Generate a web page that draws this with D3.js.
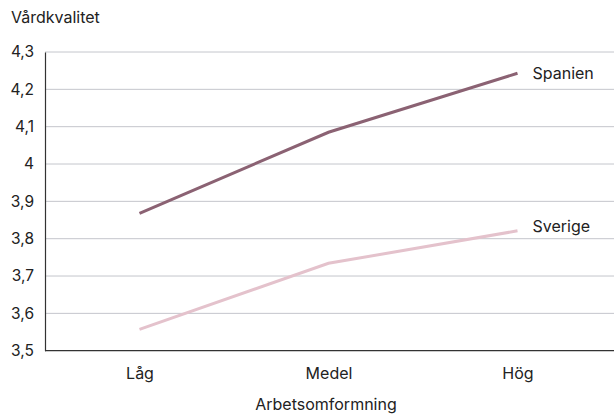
<!DOCTYPE html>
<html><head><meta charset="utf-8">
<script src="https://cdn.jsdelivr.net/npm/d3@7"></script>
<style>body{margin:0;background:#fff}svg{display:block}text{font-family:Inter,"Liberation Sans",Arial,sans-serif;fill:#222}</style>
</head><body><svg id="c" width="614" height="416"></svg>
<script>
const categories = ["Låg", "Medel", "Hög"];
const spanien = [3.868, 4.085, 4.243];
const sverige = [3.557, 3.734, 3.821];
const yTicks = [3.5, 3.6, 3.7, 3.8, 3.9, 4.0, 4.1, 4.2, 4.3];
const seriesNames = ["Spanien", "Sverige"];
const colors = ["#8b6273", "#e4c2cc"];

const FS = "16px";
const svg = d3.select("#c");
const L = 45, R = 614, T = 52, B = 350.7;
const x = d3.scalePoint().domain(categories).range([L, 612]).padding(0.5);
const y = d3.scaleLinear().domain([3.5, 4.3]).range([B, T]);
const fmt = v => (Math.round(v*10)/10).toString().replace(".", ",");

// grid
svg.append("g").selectAll("line").data(yTicks.filter(d => d > 3.5)).join("line")
  .attr("x1", L).attr("x2", R).attr("y1", d => y(d)).attr("y2", d => y(d))
  .attr("stroke", "#c4c6cc").attr("stroke-width", 1);

// y axis
const ya = svg.append("g").attr("transform", `translate(${L},0)`)
  .call(d3.axisLeft(y).tickValues(yTicks).tickFormat(fmt).tickSize(0).tickPadding(11));
ya.select(".domain").attr("stroke", "#333").attr("stroke-width", 1.2);
ya.selectAll("text").style("font-size", "15.5px").style("font-family", "Inter").attr("fill", "#222");

// x axis
const xa = svg.append("g").attr("transform", `translate(0,${B})`)
  .call(d3.axisBottom(x).tickSize(0).tickPadding(17));
xa.select(".domain").attr("d", `M${L},0H${R}`).attr("stroke", "#333").attr("stroke-width", 1.2);
xa.selectAll("text").style("font-size", FS).style("font-family", "Inter").attr("fill", "#222");

// lines
const line = d3.line().x((d, i) => x(categories[i])).y(d => y(d));
[spanien, sverige].forEach((s, k) => {
  svg.append("path").datum(s).attr("d", line).attr("fill", "none")
    .attr("stroke", colors[k]).attr("stroke-width", 3);
  svg.append("text").attr("x", x(categories[2]) + 15).attr("y", y(s[2]) + (k === 0 ? 0 : -4))
    .attr("dy", "0.35em").style("font-size", FS).text(seriesNames[k]);
});

// titles
svg.append("text").attr("x", 11).attr("y", 23).style("font-size", FS).text("Vårdkvalitet");
svg.append("text").attr("x", 326).attr("y", 410).attr("text-anchor", "middle")
  .style("font-size", FS).text("Arbetsomformning");
</script></body></html>
